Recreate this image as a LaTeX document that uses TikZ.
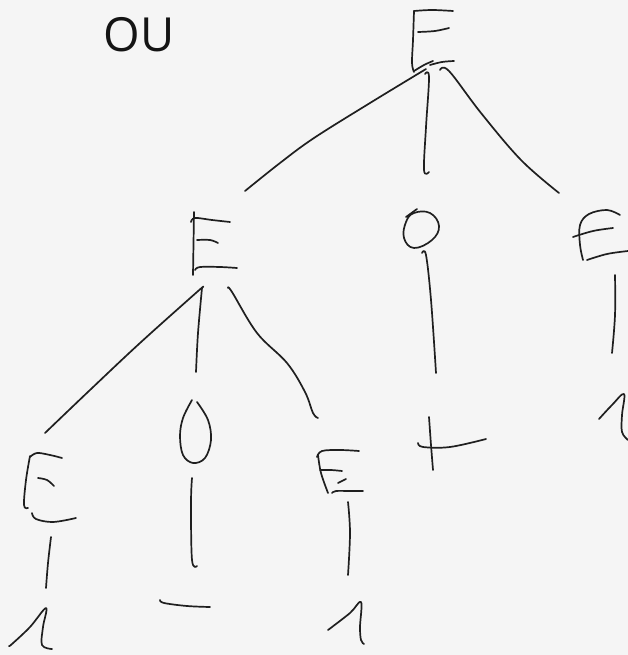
\documentclass[tikz,border=0pt]{standalone}
\usepackage{fontspec}
\setmainfont{Open Sans}
\begin{document}
\begin{tikzpicture}[x=1pt,y=-1pt,
  hand/.style={draw=black!88,line width=1.7pt,line cap=round,line join=round},
  smoothpen/.style={smooth,tension=0.6}]
% page and paper
\useasboundingbox (0,0) rectangle (628,655);
\fill[black!4] (0,0) rectangle (628,655);

% heading
\node[text=black!92,inner sep=0pt,font=\fontsize{47}{50}\selectfont] (ou) at (139,35) {OU};

% ---------- root E ----------
\draw[hand] plot[smoothpen] coordinates {(414,11) (413,40) (412,63) (414,72)};
\draw[hand] plot[smoothpen] coordinates {(414,11) (432,10) (453,11)};
\draw[hand] plot[smoothpen] coordinates {(418,32) (435,31) (449,28)};
\draw[hand] plot[smoothpen] coordinates {(414,71) (424,65) (433,61)};
\draw[hand] plot[smoothpen] coordinates {(430,65) (442,62) (454,61)};
\coordinate (rootL) at (426,69);
\coordinate (rootM) at (425,74);
\coordinate (rootR) at (440,70);

% root -> left E
\coordinate (eLtop) at (245,191);
\draw[hand] plot[smoothpen] coordinates {(rootL) (370,103) (314,138) (280,163) (eLtop)};
% root -> O
\coordinate (oMtop) at (429,172);
\draw[hand] plot[smoothpen] coordinates {(rootM) (429,77) (426,127) (424,170) (oMtop)};
% root -> right E
\coordinate (eRtop) at (559,193);
\draw[hand] plot[smoothpen] coordinates {(rootR) (449,71) (481,113) (521,160) (eRtop)};

% ---------- middle O with its leaf + ----------
\draw[hand] plot[smooth cycle,tension=0.7] coordinates {(414,213) (430,213) (439,226) (432,240) (414,248) (404,238) (406,222)};
\draw[hand] (406,217) -- (417,209);
\coordinate (oMbot) at (422,253);
\coordinate (plusTop) at (436,373);
\draw[hand] plot[smoothpen] coordinates {(oMbot) (426,255) (431,300) (plusTop)};
\draw[hand] plot[smoothpen] coordinates {(429,417) (431,445) (433,470)};
\draw[hand] plot[smoothpen] coordinates {(418,443) (423,447) (450,447) (486,439)};

% ---------- right E with its leaf 1 ----------
\draw[hand] plot[smoothpen] coordinates {(620,215) (607,210) (589,214) (580,225) (580,245) (583,260)};
\draw[hand] plot[smoothpen] coordinates {(573,237) (593,231) (613,228)};
\draw[hand] plot[smoothpen] coordinates {(587,260) (607,254) (628,251)};
\coordinate (eRbot) at (615,275);
\coordinate (oneRtop) at (612,353);
\draw[hand] plot[smoothpen] coordinates {(eRbot) (615,315) (oneRtop)};
\draw[hand] plot[smoothpen] coordinates {(599,419) (612,405) (624,394) (622,415) (622,432) (628,440)};

% ---------- left E ----------
\draw[hand] (194,212) -- (193,275);
\draw[hand] plot[smoothpen] coordinates {(191,222) (195,218) (212,220) (230,222)};
\draw[hand] plot[smoothpen] coordinates {(197,240) (210,240) (218,243)};
\draw[hand] plot[smoothpen] coordinates {(195,270) (200,267) (220,267) (237,268)};
\coordinate (eLa) at (202,288);
\coordinate (eLb) at (228,288);

% left E -> lower left E
\coordinate (eLLtop) at (45,433);
\draw[hand] plot[smoothpen] coordinates {(eLa) (197,292) (140,343) (90,390) (eLLtop)};
% left E -> O
\coordinate (oLtop) at (196,372);
\draw[hand] plot[smoothpen] coordinates {(eLa) (198,333) (oLtop)};
% left E -> lower right E
\coordinate (eLRtop) at (318,418);
\draw[hand] plot[smoothpen] coordinates {(eLb) (232,292) (257,333) (287,363) (305,392) (313,413) (eLRtop)};

% ---------- lower left E with its leaf 1 ----------
\draw[hand] plot[smoothpen] coordinates {(30,457) (37,453) (50,455) (62,458)};
\draw[hand] plot[smoothpen] coordinates {(30,456) (26,480) (24,505) (28,508)};
\draw[hand] plot[smoothpen] coordinates {(38,478) (47,480) (54,486)};
\draw[hand] plot[smoothpen] coordinates {(32,513) (36,519) (53,522) (76,518)};
\coordinate (eLLbot) at (51,537);
\coordinate (oneLtop) at (46,588);
\draw[hand] plot[smoothpen] coordinates {(eLLbot) (48,563) (oneLtop)};
\draw[hand] plot[smoothpen] coordinates {(9,646) (12,644) (30,627) (46,608) (43,627) (42,645) (52,649)};

% ---------- lower O with its leaf - ----------
\draw[hand] plot[smoothpen] coordinates {(192,400) (183,418) (180,436) (183,455) (193,463) (205,458) (211,440) (208,420) (197,402)};
\coordinate (oLbot) at (192,478);
\coordinate (minusTop) at (197,566);
\draw[hand] plot[smoothpen] coordinates {(oLbot) (191,503) (192,560) (minusTop)};
\draw[hand] plot[smoothpen] coordinates {(160,600) (164,603) (187,606) (210,607)};

% ---------- lower right E with its leaf 1 ----------
\draw[hand] plot[smoothpen] coordinates {(318,455) (321,473) (328,493)};
\draw[hand] plot[smoothpen] coordinates {(317,457) (322,451) (340,450) (359,451)};
\draw[hand] plot[smoothpen] coordinates {(320,470) (331,470) (342,471)};
\draw[hand] (338,483) -- (346,479);
\draw[hand] plot[smoothpen] coordinates {(332,493) (336,491) (350,491) (363,491)};
\coordinate (eLRbot) at (348,502);
\coordinate (oneMtop) at (348,575);
\draw[hand] plot[smoothpen] coordinates {(eLRbot) (350,533) (oneMtop)};
\draw[hand] plot[smoothpen] coordinates {(328,630) (350,613) (361,602) (360,627) (361,640) (364,644)};
\end{tikzpicture}
\end{document}
